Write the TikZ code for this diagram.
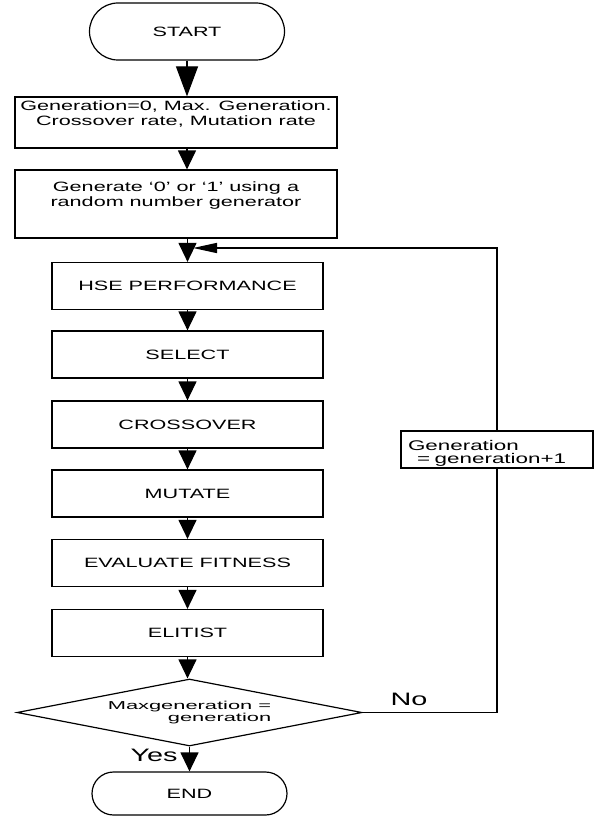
\documentclass[tikz,border=0pt]{standalone}
\usepackage{fontspec}
\setmainfont{Liberation Sans}[FakeStretch=1.6]
\newfontfamily\widefont{Liberation Sans}[FakeStretch=1.9]
\usetikzlibrary{arrows.meta,shapes.misc,shapes.geometric}

\begin{document}
\begin{tikzpicture}[%
      x=1pt, y=-1pt,
      block/.style={draw, line width=1.2pt, minimum width=271pt, minimum height=47pt,
        inner sep=0pt, align=center, font=\fontsize{13.5}{15}\selectfont},
      wideblock/.style={block, minimum width=322pt},
      term/.style={draw, rounded rectangle, line width=1.2pt, minimum width=195pt,
        inner sep=0pt, font=\fontsize{13.5}{15}\selectfont},
      flow/.style={-{Triangle[width=18pt,length=19pt]}, line width=1.2pt},
      loopline/.style={line width=1.5pt},
      ]
      \useasboundingbox (0,0) rectangle (594,816);

      \node [term, minimum height=57pt] (start) at (187,31.5) {START};
      \node [wideblock, minimum height=51pt, text depth=19pt] (init) at (176,122.5)
            {Generation=0, Max. Generation.\\Crossover rate, Mutation rate};
      \node [wideblock, minimum height=68pt, text depth=19pt] (gen) at (176,204)
            {Generate `0' or `1' using a\\random number generator};
      \node [block] (perf) at (187.5,286) {HSE PERFORMANCE};
      \node [block] (select) at (187.5,354.5) {SELECT};
      \node [block] (cross) at (187.5,424.5) {CROSSOVER};
      \node [block] (mutate) at (187.5,493.5) {MUTATE};
      \node [block] (eval) at (187.5,563) {EVALUATE FITNESS};
      \node [block] (elite) at (187.5,633) {ELITIST};
      \node [draw, diamond, aspect=5.15, line width=1.2pt, minimum width=345pt,
             minimum height=67pt, inner sep=0pt, align=right,
             font=\widefont\fontsize{11.5}{11.5}\selectfont] (test) at (189.5,712.5)
            {Maxgeneration =\\generation};
      \node [term, minimum height=43pt] (stop) at (189.5,793.5) {END};
      \node [draw, line width=1.2pt, minimum width=192pt, minimum height=37pt,
             inner xsep=7pt, inner ysep=0pt, text width=178pt, align=left,
             text depth=9pt, font=\fontsize{14}{13}\selectfont] (incr) at (497,449.5)
            {Generation\\\hspace*{9pt}= generation+1};

      \node [font=\fontsize{18}{18}\selectfont] (yes) at (154,755) {Yes};
      \node [font=\fontsize{18}{18}\selectfont] (no) at (409,699) {No};

      \coordinate (loopin) at (193,248);

      \draw [flow, -{Triangle[width=22pt,length=30pt]}] (start.south) -- (start.south |- init.north);
      \draw [flow] (init.south -| start.south) -- (gen.north -| start.south);
      \draw [flow] (perf.north |- gen.south) -- (perf.north);
      \draw [flow] (perf) -- (select);
      \draw [flow] (select) -- (cross);
      \draw [flow] (cross) -- (mutate);
      \draw [flow] (mutate) -- (eval);
      \draw [flow] (eval) -- (elite);
      \draw [flow] (elite.south) -- (elite.south |- test.north);
      \draw [flow] (test.south) -- (stop.north);

      \draw [loopline] (test.east) -| (incr.south);
      \draw [loopline, -{Triangle[width=10pt,length=24pt]}] (incr.north) |- (loopin);
\end{tikzpicture}
\end{document}
